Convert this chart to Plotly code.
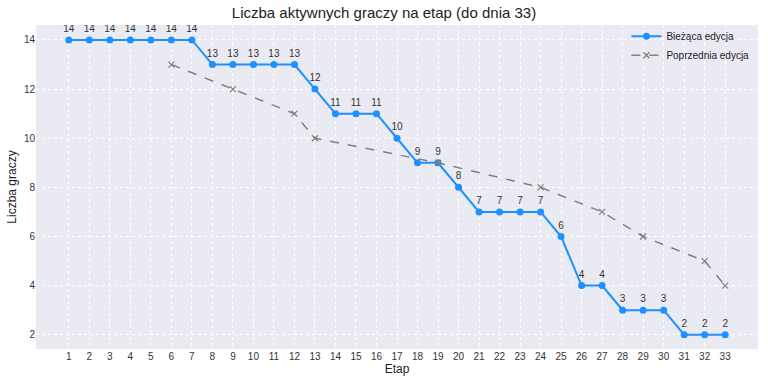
import plotly.graph_objects as go

stages = list(range(1, 34))
current = [14, 14, 14, 14, 14, 14, 14, 13, 13, 13, 13, 13, 12, 11, 11, 11, 10, 9, 9, 8,
           7, 7, 7, 7, 6, 4, 4, 3, 3, 3, 2, 2, 2]
prev_stages = [6, 9, 12, 13, 19, 24, 27, 29, 32, 33]
prev_values = [13, 12, 11, 10, 9, 8, 7, 6, 5, 4]
y_ticks = [2, 4, 6, 8, 10, 12, 14]

FONT = "Liberation Sans"

fig = go.Figure()
fig.add_trace(go.Scatter(
    x=stages, y=current, mode="lines+markers+text", name="Bieżąca edycja",
    line=dict(color="#1E90FF", width=2), marker=dict(size=7, color="#1E90FF"),
    text=[str(v) for v in current], textposition="top center",
    textfont=dict(size=10, color="#333333", family=FONT),
))
fig.add_trace(go.Scatter(
    x=prev_stages, y=prev_values, mode="lines+markers", name="Poprzednia edycja",
    line=dict(color="#808080", width=1.5, dash="dash"),
    marker=dict(symbol="x-thin", size=6, color="#808080", line=dict(color="#808080", width=1.2)),
))

fig.update_layout(
    width=768, height=384,
    paper_bgcolor="white", plot_bgcolor="#EAEAF2",
    margin=dict(l=36, r=10, t=25, b=35),
    font=dict(family=FONT, size=10, color="#333333"),
    title=dict(text="Liczba aktywnych graczy na etap (do dnia 33)", x=0.5, xanchor="center",
               y=0.98, yanchor="top", font=dict(size=15, color="#222222", family=FONT)),
    legend=dict(x=0.995, y=1.01, xanchor="right", yanchor="top", bgcolor="rgba(0,0,0,0)",
                font=dict(size=10, color="#222222"), tracegroupgap=0, itemwidth=30),
    showlegend=True,
)
fig.update_xaxes(
    range=[-0.6, 34.6], tickmode="array", tickvals=stages, ticktext=[str(s) for s in stages],
    showgrid=True, gridcolor="white", gridwidth=1, griddash="dot", zeroline=False,
    automargin=False,
    title=dict(text="Etap", font=dict(size=12, color="#222222"), standoff=2),
    tickfont=dict(size=10, color="#333333"), showline=False,
)
fig.update_yaxes(
    range=[1.42, 14.61], tickmode="array", tickvals=y_ticks, ticktext=[str(t) for t in y_ticks],
    showgrid=True, gridcolor="white", gridwidth=1, griddash="dot", zeroline=False,
    automargin=False,
    title=dict(text="Liczba graczy", font=dict(size=12, color="#222222"), standoff=4),
    tickfont=dict(size=10, color="#333333"), showline=False,
)

fig.write_html("out.html", config={"displayModeBar": False},
               post_script="document.body.style.margin='0';")
